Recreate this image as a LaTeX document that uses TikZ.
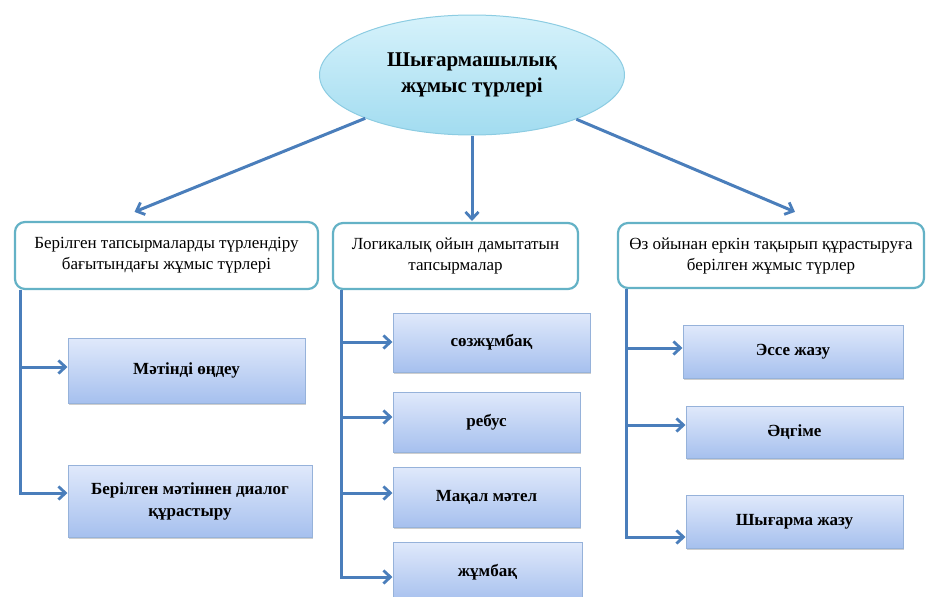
\documentclass[tikz,border=0pt]{standalone}
\usepackage{fontspec}
\setmainfont{Liberation Serif}
\usetikzlibrary{arrows.meta,shapes.geometric,shadows}

\definecolor{linkblue}{RGB}{74,126,187}
\definecolor{frameteal}{RGB}{100,178,198}
\definecolor{leaftop}{RGB}{224,233,251}
\definecolor{leafbot}{RGB}{166,192,238}
\definecolor{leafedge}{RGB}{150,178,218}
\definecolor{ovaltop}{RGB}{214,242,251}
\definecolor{ovalbot}{RGB}{162,220,240}
\definecolor{ovaledge}{RGB}{140,204,226}

\tikzset{
  flow/.style={draw=linkblue, line width=3pt,
    -{Straight Barb[length=7pt,width=13pt,line width=2.8pt]}},
  oval/.style={ellipse, draw=ovaledge, line width=1pt,
    top color=ovaltop, bottom color=ovalbot,
    minimum width=305pt, minimum height=120pt, inner sep=0pt,
    align=center, font=\fontsize{21}{26}\selectfont\bfseries},
  headbox/.style={rectangle, rounded corners=10pt, draw=frameteal,
    line width=2.2pt, fill=white, align=center, inner sep=0pt,
    font=\fontsize{17}{21}\selectfont},
  leafbox/.style={rectangle, draw=leafedge, line width=1pt,
    top color=leaftop, bottom color=leafbot, align=center, inner sep=0pt,
    font=\fontsize{17}{22}\selectfont\bfseries,
    drop shadow={shadow xshift=1.2pt, shadow yshift=-1.8pt,
      opacity=0.35, fill=black!55}},
}

\begin{document}
\begin{tikzpicture}[x=1pt,y=-1pt]
\useasboundingbox (0,0) rectangle (927,597);

% root
\node[oval] (E) at (472,75) {Шығармашылық\\жұмыс түрлері};

% category boxes
\node[headbox, minimum width=303pt, minimum height=67pt] (B1) at (166.5,255.5)
  {Берілген тапсырмаларды түрлендіру\\бағытындағы жұмыс түрлері};
\node[headbox, minimum width=245pt, minimum height=66pt] (B2) at (455.5,256)
  {Логикалық ойын дамытатын\\тапсырмалар};
\node[headbox, minimum width=306pt, minimum height=65pt] (B3) at (771,255.5)
  {Өз ойынан еркін тақырып құрастыруға\\берілген жұмыс түрлер};

% left column leaves
\node[leafbox, minimum width=237pt, minimum height=65pt] (L1) at (186.5,370.5) {Мәтінді өңдеу};
\node[leafbox, minimum width=244pt, minimum height=72pt] (L2) at (190,501) {Берілген мәтіннен диалог\\құрастыру};

% middle column leaves
\node[leafbox, minimum width=197pt, minimum height=59pt] (M1) at (491.5,342.5) {сөзжұмбақ};
\node[leafbox, minimum width=187pt, minimum height=60pt] (M2) at (486.5,422) {ребус};
\node[leafbox, minimum width=187pt, minimum height=60pt] (M3) at (486.5,497) {Мақал мәтел};
\node[leafbox, minimum width=189pt, minimum height=60pt] (M4) at (487.5,572) {жұмбақ};

% right column leaves
\node[leafbox, minimum width=220pt, minimum height=53pt] (R1) at (793,351.5) {Эссе жазу};
\node[leafbox, minimum width=217pt, minimum height=52pt] (R2) at (794.5,432) {Әңгіме};
\node[leafbox, minimum width=217pt, minimum height=53pt] (R3) at (794.5,521.5) {Шығарма жазу};

% root to categories
\draw[flow] (E) -- ([shift={(-32,-9)}]B1.north);
\draw[flow] (E.south) -- (E.south |- 0,221);
\draw[flow] (E) -- ([shift={(24,-10)}]B3.north);

% trunks under each category
\coordinate (tL) at ([xshift=7pt]B1.south west);
\coordinate (tM) at ([xshift=10pt]B2.south west);
\coordinate (tR) at ([xshift=10pt]B3.south west);

\draw[flow] (tL) |- (L1.west |- 0,367);
\draw[flow] (tL) |- (L2.west |- 0,493);

\draw[flow] (tM) |- (M1.west |- 0,342);
\draw[flow] (tM) |- (M2.west |- 0,417);
\draw[flow] (tM) |- (M3.west |- 0,493);
\draw[flow] (tM) |- (M4.west |- 0,577);

\draw[flow] (tR) |- (R1.west |- 0,348);
\draw[flow] (tR) |- (R2.west |- 0,425);
\draw[flow] (tR) |- (R3.west |- 0,537);
\end{tikzpicture}
\end{document}
